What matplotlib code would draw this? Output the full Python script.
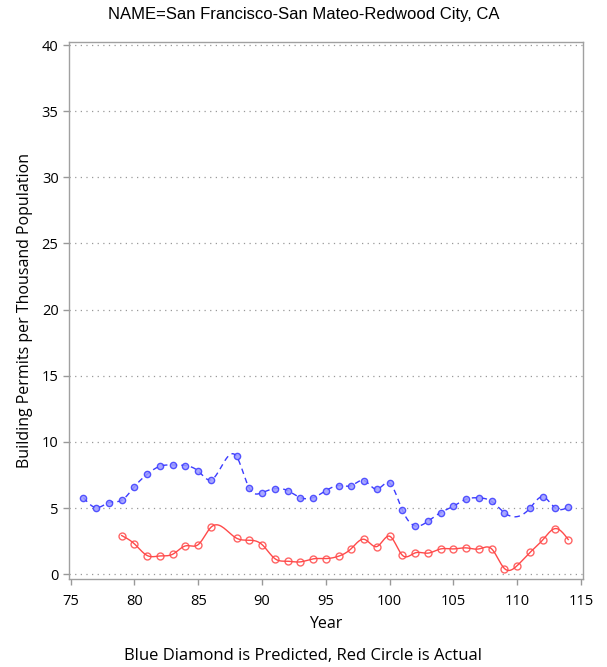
import numpy as np
import matplotlib
matplotlib.use("Agg")
import matplotlib.pyplot as plt

# predicted (blue diamonds), no value for 87 and 110
pred_years = [76, 77, 78, 79, 80, 81, 82, 83, 84, 85, 86, 88, 89, 90, 91, 92, 93, 94,
              95, 96, 97, 98, 99, 100, 101, 102, 103, 104, 105, 106, 107, 108, 109,
              111, 112, 113, 114]
pred_vals = [5.79, 5.03, 5.41, 5.59, 6.62, 7.56, 8.16, 8.26, 8.21, 7.79, 7.13, 8.90,
             6.50, 6.17, 6.47, 6.32, 5.79, 5.79, 6.31, 6.70, 6.70, 7.08, 6.42, 6.88,
             4.84, 3.65, 4.00, 4.66, 5.14, 5.67, 5.77, 5.50, 4.64, 4.99, 5.85, 4.99, 5.06]

# actual (red circles), no value for 87
act_years = [79, 80, 81, 82, 83, 84, 85, 86, 88, 89, 90, 91, 92, 93, 94, 95, 96, 97,
             98, 99, 100, 101, 102, 103, 104, 105, 106, 107, 108, 109, 110, 111, 112,
             113, 114]
act_vals = [2.92, 2.29, 1.41, 1.38, 1.51, 2.14, 2.24, 3.55, 2.72, 2.57, 2.24, 1.18,
            0.98, 0.93, 1.16, 1.18, 1.36, 1.94, 2.64, 2.09, 2.87, 1.43, 1.61, 1.59,
            1.91, 1.91, 1.99, 1.91, 1.91, 0.43, 0.65, 1.64, 2.59, 3.45, 2.62]

x_ticks = [75, 80, 85, 90, 95, 100, 105, 110, 115]
y_ticks = [0, 5, 10, 15, 20, 25, 30, 35, 40]

title = "NAME=San Francisco-San Mateo-Redwood City, CA"
footnote = "Blue Diamond is Predicted, Red Circle is Actual"


# natural cubic spline, only to draw the smooth line between the markers
def spline(xs, ys, per_seg=20):
    x = np.asarray(xs, dtype=float)
    y = np.asarray(ys, dtype=float)
    n = len(x)
    h = np.diff(x)
    a = np.zeros((n, n))
    r = np.zeros(n)
    a[0, 0] = 1
    a[-1, -1] = 1
    for i in range(1, n - 1):
        a[i, i - 1] = h[i - 1]
        a[i, i] = 2 * (h[i - 1] + h[i])
        a[i, i + 1] = h[i]
        r[i] = 6 * ((y[i + 1] - y[i]) / h[i] - (y[i] - y[i - 1]) / h[i - 1])
    m = np.linalg.solve(a, r)
    out_x = []
    out_y = []
    for i in range(n - 1):
        t = np.linspace(x[i], x[i + 1], per_seg, endpoint=False)
        d1 = x[i + 1] - t
        d0 = t - x[i]
        s = (m[i] * d1 ** 3 + m[i + 1] * d0 ** 3) / (6 * h[i]) \
            + (y[i] / h[i] - m[i] * h[i] / 6) * d1 \
            + (y[i + 1] / h[i] - m[i + 1] * h[i] / 6) * d0
        out_x.extend(t)
        out_y.extend(s)
    out_x.append(x[-1])
    out_y.append(y[-1])
    return out_x, out_y


plt.rcParams['font.family'] = ['Open Sans', 'DejaVu Sans']

fig = plt.figure(figsize=(6.07, 6.67), dpi=100)
ax = fig.add_axes([0.1137, 0.132, 0.8468, 0.805])

blue = '#3c3cff'
red = '#ff4a4a'

bx, by = spline(pred_years, pred_vals)
ax.plot(bx, by, color=blue, lw=1.0, dashes=(4, 3), zorder=3)
ax.plot(pred_years, pred_vals, ls='none', marker='o', ms=4.5, mfc='#9a9aff',
        mec=blue, mew=1.0, alpha=0.85, zorder=4)

rx, ry = spline(act_years, act_vals)
ax.plot(rx, ry, color=red, lw=1.0, zorder=3)
ax.plot(act_years, act_vals, ls='none', marker='o', ms=5, mfc='none',
        mec=red, mew=1.0, alpha=0.85, zorder=4)

ax.set_xlim(74.87, 115.16)
ax.set_ylim(-0.36, 40.23)
ax.set_xticks(x_ticks)
ax.set_yticks(y_ticks)
ax.tick_params(labelsize=10.5, colors='#999999', labelcolor='black', length=4, width=1)
ax.tick_params(axis='x', pad=7)

ax.yaxis.grid(True, color='#999999', linestyle=(0, (1, 3.5)), lw=0.9)
ax.set_axisbelow(True)
for sp in ax.spines.values():
    sp.set_color('#a0a0a0')
    sp.set_linewidth(1.0)

ax.set_xlabel('Year', fontsize=11.5, labelpad=5)
ax.set_ylabel('Building Permits per Thousand Population', fontsize=11.5, labelpad=6)

fig.text(0.5, 0.979, title, ha='center', va='center', fontsize=12,
         family=['Liberation Sans', 'DejaVu Sans'])
fig.text(0.5, 0.016, footnote, ha='center', va='center', fontsize=12)

fig.savefig('out.png', dpi=100)
